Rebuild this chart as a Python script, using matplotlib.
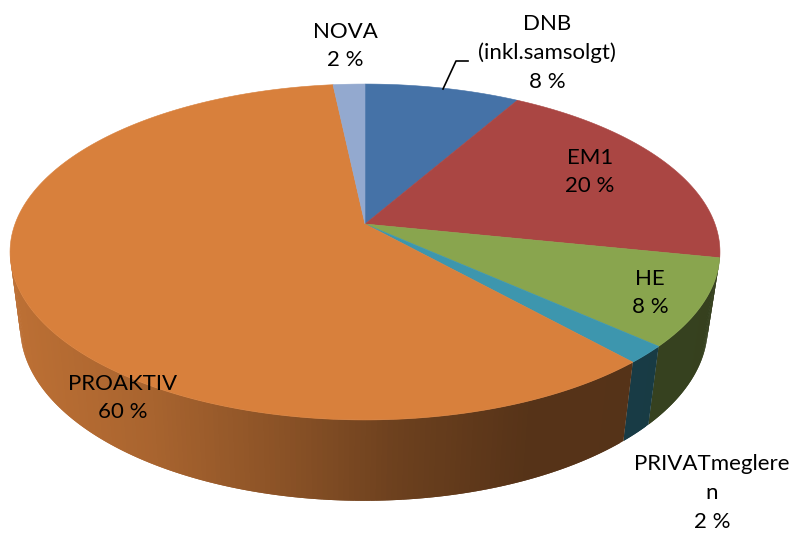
#!/usr/bin/env python3
import matplotlib
matplotlib.use("Agg")
import matplotlib.pyplot as plt
import numpy as np

# Slices, clockwise from 12 o'clock
names = ["DNB", "EM1", "HE", "PRIVATmeglere", "PROAKTIV", "NOVA"]
values = [8.3, 19.9, 8.4, 1.7, 60.0, 1.7]
labels = ["DNB\n(inkl.samsolgt)\n8 %", "EM1\n20 %", "HE\n8 %",
          "PRIVATmeglere\nn\n2 %", "PROAKTIV\n60 %", "NOVA\n2 %"]
colors = ["#4572A7", "#AA4643", "#89A54E", "#3D96AE", "#D8803C", "#93A9CF"]

# Label centres in pixels
label_x = [547, 590, 650, 712, 123, 345]
label_y = [53, 172, 293, 493, 398, 46]

# Perspective: p tilts the disc, top face and bottom face have their own scale
P = 1 / 6
TOP = dict(cx=365, cy=224, rx=350, ry=163.3)
BOTTOM = dict(cx=364, cy=298, rx=339, ry=169)


def disc(theta, face):
    # theta in degrees, clockwise from the top of the pie
    t = np.radians(theta)
    u, v = np.sin(t), np.cos(t)
    d = 1 + P * v
    return face["cx"] + face["rx"] * u / d, face["cy"] - face["ry"] * v / d


def shade(x):
    # the side wall gets darker from left to right
    return np.interp(x, [15, 150, 300, 400, 530, 720], [0.87, 0.78, 0.62, 0.50, 0.40, 0.39])


fig = plt.figure(figsize=(7.92, 5.33), dpi=100)
ax = fig.add_axes([0, 0, 1, 1])
ax.set_xlim(0, 792)
ax.set_ylim(533, 0)
ax.axis("off")

edges = np.concatenate([[0], np.cumsum(values)]) / np.sum(values) * 360

# Side wall, only the part facing the viewer
for i, color in enumerate(colors):
    base = np.array(matplotlib.colors.to_rgb(color))
    a = max(edges[i], 100.0)
    b = min(edges[i + 1], 260.0)
    if b <= a:
        continue
    steps = np.linspace(a, b, int((b - a) / 0.75) + 2)
    step = steps[1] - steps[0]
    for t0 in steps[:-1]:
        # each strip runs under the next one, so no seams show
        t1 = min(t0 + 2 * step, b)
        x0, y0 = disc(t0, TOP)
        x1, y1 = disc(t1, TOP)
        x2, y2 = disc(t1, BOTTOM)
        x3, y3 = disc(t0, BOTTOM)
        c = base * shade(x0 + (x1 - x0) / 4)
        ax.fill([x0, x1, x2, x3], [y0, y1, y2, y3], color=c, lw=0, zorder=2)

# Top face
for i, color in enumerate(colors):
    th = np.linspace(edges[i], edges[i + 1], 200)
    x, y = disc(th, TOP)
    ax.fill(np.r_[TOP["cx"], x], np.r_[TOP["cy"], y], color=color, lw=0.4, zorder=3)

# Leader line for DNB
ax.plot([443, 456, 468], [89, 61, 61], color="black", lw=1.2, zorder=4)

for text, x, y in zip(labels, label_x, label_y):
    ax.text(x, y, text, ha="center", va="center", fontsize=16, family="Lato",
            linespacing=1.55, color="black", zorder=5)

fig.savefig("out.png", dpi=100)
